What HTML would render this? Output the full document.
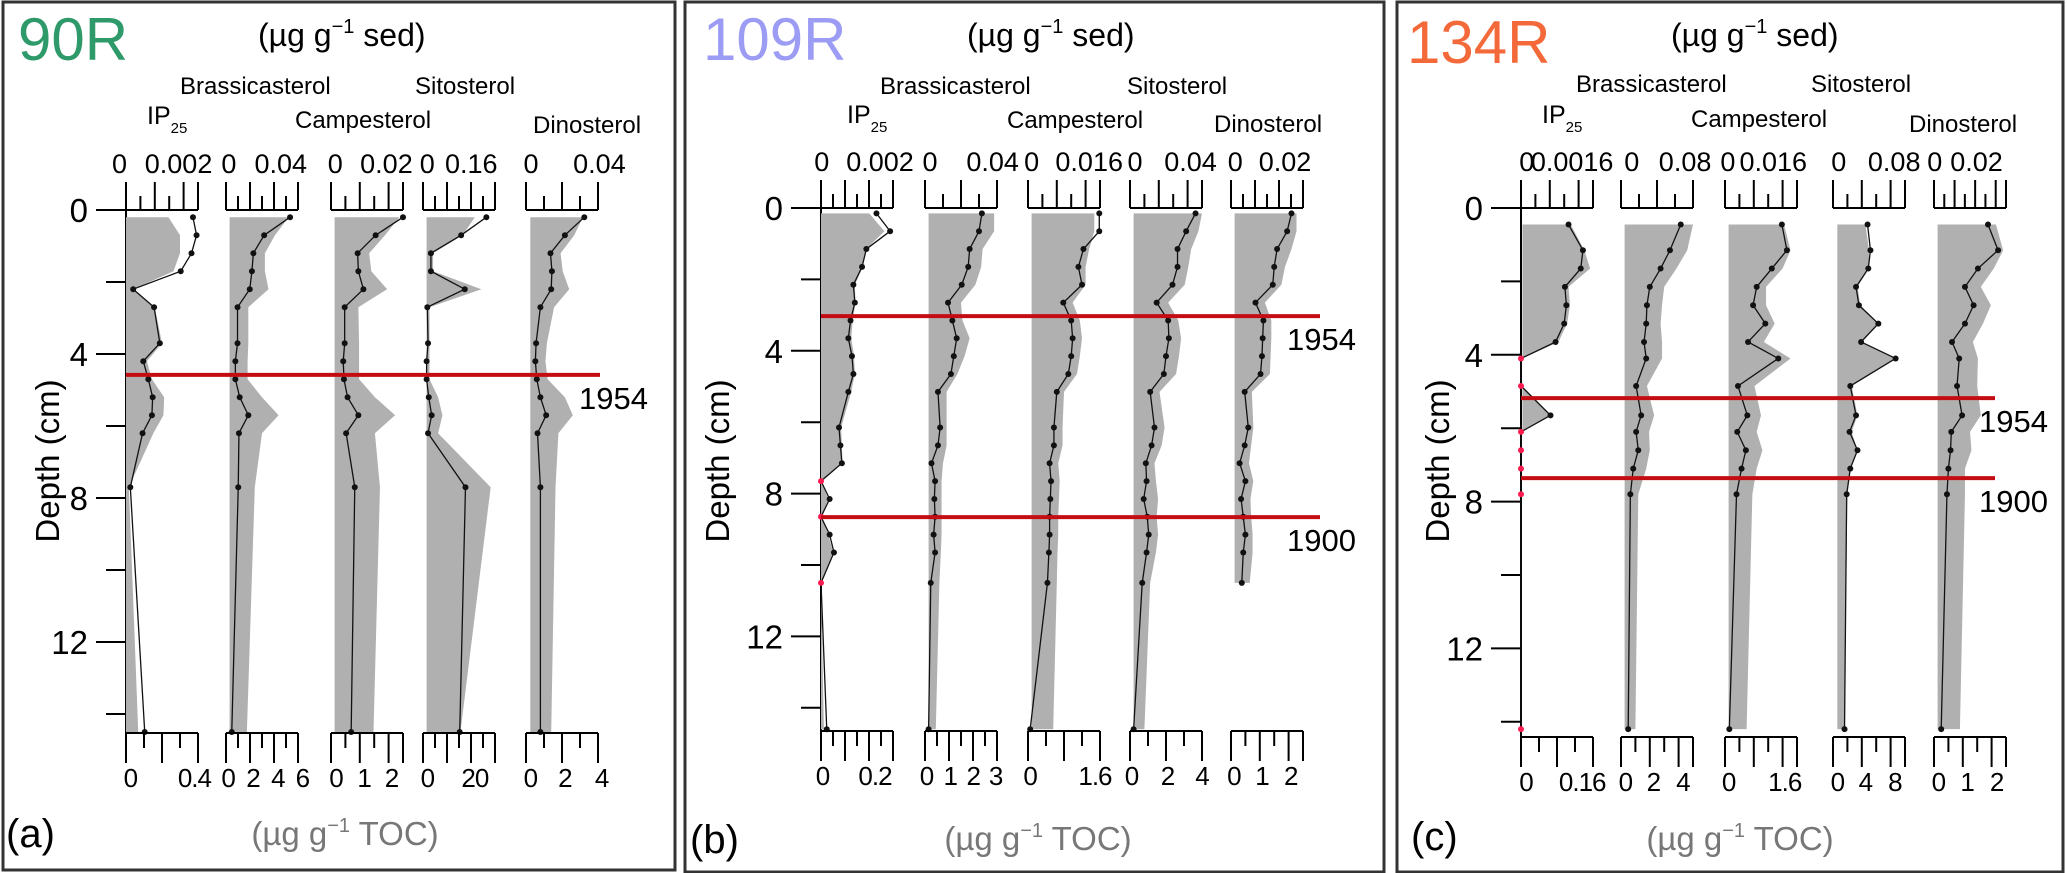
<!DOCTYPE html>
<html>
<head>
<meta charset="utf-8">
<style>
  html, body { margin: 0; padding: 0; background: #fff; }
  svg { display: block; font-family: "Liberation Sans", "DejaVu Sans", sans-serif; }
</style>
</head>
<body>
<svg id="fig" width="2067" height="873" viewBox="0 0 2067 873"></svg>
<script>
// ---------------- DATA (values as fraction of each column's axis range) ----------------
const columnNames = ["IP25", "Brassicasterol", "Campesterol", "Sitosterol", "Dinosterol"];

// Panel (a) 90R
const depthsA = [0.2,0.7,1.2,1.7,2.2,2.7,3.7,4.2,4.7,5.2,5.7,6.2,7.7,14.5];
const ip25A      = [0.93,0.98,0.91,0.76,0.10,0.39,0.47,0.24,0.31,0.37,0.36,0.23,0.06,0.26];
const ip25ShadeA = [0.59,0.75,0.75,0.66,0.10,0.40,0.50,0.29,0.36,0.53,0.52,0.38,0.04,0.17];
const brasA      = [0.89,0.53,0.38,0.36,0.33,0.16,0.16,0.13,0.13,0.19,0.31,0.18,0.17,0.08];
const brasShadeA = [0.87,0.68,0.54,0.54,0.59,0.31,0.31,0.30,0.30,0.50,0.73,0.50,0.40,0.29];
const campA      = [1.00,0.62,0.37,0.38,0.45,0.19,0.19,0.17,0.18,0.23,0.38,0.21,0.33,0.28];
const campShadeA = [0.95,0.75,0.53,0.56,0.78,0.38,0.39,0.39,0.39,0.61,0.89,0.61,0.68,0.59];
const sitoA      = [0.88,0.53,0.11,0.11,0.58,0.06,0.07,0.05,0.05,0.08,0.12,0.07,0.59,0.51];
const sitoShadeA = [0.72,0.55,0.14,0.14,0.81,0.09,0.09,0.09,0.09,0.21,0.27,0.21,0.94,0.52];
const dinoA      = [0.81,0.54,0.34,0.36,0.35,0.20,0.14,0.13,0.15,0.20,0.28,0.16,0.20,0.20];
const dinoShadeA = [0.79,0.67,0.48,0.51,0.60,0.39,0.29,0.27,0.30,0.54,0.65,0.45,0.41,0.35];
const agesA = [[4.58, "1954"]];

// Panel (b) 109R
const depthsB = [0.15,0.65,1.15,1.65,2.15,2.65,3.15,3.65,4.15,4.65,5.15,6.15,6.65,7.15,7.65,8.15,8.65,9.15,9.65,10.5,14.6];
const ip25B      = [0.77,0.96,0.63,0.57,0.45,0.47,0.41,0.38,0.43,0.45,0.38,0.25,0.27,0.29,0,0.12,0,0.12,0.18,0,0.08];
const ip25ShadeB = [0.67,0.88,0.63,0.58,0.47,0.48,0.44,0.42,0.46,0.47,0.42,0.28,0.29,0.30,0,0.10,0,0.10,0.17,0,0.04];
const brasB      = [0.79,0.75,0.62,0.60,0.51,0.32,0.38,0.44,0.40,0.36,0.18,0.21,0.18,0.09,0.14,0.13,0.14,0.12,0.14,0.08,0.05];
const brasShadeB = [0.96,0.96,0.80,0.78,0.70,0.50,0.52,0.62,0.55,0.45,0.30,0.30,0.30,0.25,0.23,0.23,0.23,0.23,0.22,0.20,0.15];
const campB      = [0.99,0.99,0.77,0.70,0.75,0.49,0.60,0.62,0.60,0.56,0.40,0.36,0.36,0.30,0.32,0.31,0.30,0.30,0.29,0.27,0.03];
const campShadeB = [0.92,0.92,0.85,0.80,0.80,0.62,0.72,0.75,0.72,0.68,0.50,0.48,0.48,0.42,0.44,0.43,0.42,0.42,0.41,0.40,0.35];
const sitoB      = [0.91,0.78,0.66,0.66,0.59,0.37,0.53,0.54,0.50,0.47,0.28,0.34,0.30,0.22,0.23,0.19,0.24,0.26,0.23,0.17,0.05];
const sitoShadeB = [1.00,0.95,0.85,0.81,0.76,0.53,0.67,0.71,0.68,0.64,0.41,0.48,0.44,0.34,0.36,0.39,0.37,0.39,0.36,0.28,0.20];
const dinoB      = [0.84,0.78,0.64,0.60,0.58,0.34,0.45,0.44,0.43,0.41,0.19,0.24,0.19,0.12,0.20,0.14,0.17,0.20,0.17,0.15,null];
const dinoShadeB = [0.91,0.91,0.84,0.75,0.70,0.47,0.56,0.56,0.55,0.54,0.29,0.31,0.28,0.25,0.31,0.27,0.28,0.30,0.30,0.26,null];
const agesB = [[3.03, "1954"], [8.66, "1900"]];

// Panel (c) 134R
const depthsC = [0.45,1.15,1.65,2.15,2.65,3.15,3.65,4.1,4.85,5.65,6.1,6.6,7.1,7.8,14.2];
const ip25C      = [0.66,0.86,0.83,0.61,0.63,0.60,0.48,0,0,0.41,0,0,0,0,0];
const ip25ShadeC = [0.69,0.88,0.96,0.66,0.68,0.64,0.52,0,0,0.41,0,0,0,0,0];
const brasC      = [0.83,0.68,0.55,0.40,0.36,0.35,0.32,0.35,0.21,0.28,0.21,0.24,0.17,0.13,0.10];
const brasShadeC = [1.00,0.92,0.77,0.60,0.57,0.55,0.57,0.57,0.36,0.46,0.39,0.40,0.35,0.24,0.20];
const campC      = [0.79,0.86,0.65,0.44,0.39,0.56,0.32,0.74,0.18,0.31,0.17,0.29,0.23,0.16,0.06];
const campShadeC = [0.82,0.91,0.80,0.57,0.57,0.69,0.54,0.91,0.41,0.50,0.44,0.52,0.44,0.38,0.30];
const sitoC      = [0.48,0.52,0.49,0.32,0.36,0.63,0.39,0.87,0.24,0.32,0.23,0.34,0.24,0.19,0.16];
const sitoShadeC = [0.45,0.50,0.50,0.34,0.38,0.63,0.40,0.88,0.26,0.34,0.26,0.34,0.25,0.20,0.16];
const dinoC      = [0.75,0.89,0.61,0.43,0.55,0.43,0.25,0.35,0.32,0.39,0.24,0.23,0.20,0.18,0.10];
const dinoShadeC = [0.86,0.96,0.83,0.65,0.79,0.68,0.54,0.61,0.60,0.65,0.50,0.52,0.43,0.43,0.36];
const agesC = [[5.18, "1954"], [7.36, "1900"]];

// Tick labels (text, fractional position) per column
const topTicksA = [[["0",-0.09],["0.002",0.73]], [["0",0.04],["0.04",0.76]], [["0",0.06],["0.02",0.77]], [["0",0.06],["0.16",0.67]], [["0",0.07],["0.04",1.02]]];
const botTicksA = [[["0",0.06],["0.4",0.95]], [["0",0.03],["2",0.375],["4",0.72],["6",1.06]], [["0",0.07],["1",0.46],["2",0.84]], [["0",0.06],["20",0.72]], [["0",0.06],["2",0.54],["4",1.05]]];
const topTicksB = [[["0",0.01],["0.002",0.82]], [["0",0.07],["0.04",0.94]], [["0",0.05],["0.016",0.85]], [["0",0.07],["0.04",0.84]], [["0",0.06],["0.02",0.75]]];
const botTicksB = [[["0",0.02],["0.2",0.75]], [["0",0.02],["1",0.35],["2",0.67],["3",0.98]], [["0",0.03],["1.6",0.93]], [["0",0.02],["2",0.52],["4",1.0]], [["0",0.04],["1",0.43],["2",0.83]]];
const topTicksC = [[["0",0.08],["0.0016",0.71]], [["0",0.15],["0.08",0.89]], [["0",0.04],["0.016",0.67]], [["0",0.08],["0.08",0.85]], [["0",0.01],["0.02",0.59]]];
const botTicksC = [[["0",0.07],["0.16",0.85]], [["0",0.06],["2",0.45],["4",0.86]], [["0",0.05],["1.6",0.83]], [["0",0.06],["4",0.45],["8",0.86]], [["0",0.06],["1",0.46],["2",0.87]]];
const depthTickLabels = ["0","4","8","12"];

// ---------------- LAYOUT (positions only) ----------------
const panels = [
  { id:"a", site:"90R", color:"#2e9a6a", box:[3,2,672,868], xs:[126,226,331,423,526], w:72, y0:210, k:36, botY:733,
    depths:depthsA, lines:[ip25A,brasA,campA,sitoA,dinoA], shades:[ip25ShadeA,brasShadeA,campShadeA,sitoShadeA,dinoShadeA],
    shadeLeft:[0,0.05,0.05,0.05,0.06], top:topTicksA, bot:botTicksA, topN:[5,6,5,6,4], botN:[4,6,5,6,4], ages:agesA, ageEnd:600, ageTextX:579,
    siteX:18, siteY:60, unitX:258, titles:[[147,124],[180,94],[295,128],[415,94],[533,133]], depthLabelX:47, letterX:6, letterY:847, tocX:345, tocY:845 },
  { id:"b", site:"109R", color:"#9c9cf5", box:[685,2,699,870], xs:[821,925,1028,1130,1231], w:72, y0:208, k:35.7, botY:731,
    depths:depthsB, lines:[ip25B,brasB,campB,sitoB,dinoB], shades:[ip25ShadeB,brasShadeB,campShadeB,sitoShadeB,dinoShadeB],
    shadeLeft:[0,0.05,0.05,0.05,0.05], top:topTicksB, bot:botTicksB, topN:[6,4,5,5,6], botN:[6,6,4,4,5], ages:agesB, ageEnd:1320, ageTextX:1287,
    siteX:703, siteY:60, unitX:967, titles:[[847,123],[880,94],[1007,128],[1127,94],[1214,132]], depthLabelX:717, letterX:690, letterY:853, tocX:1038, tocY:850 },
  { id:"c", site:"134R", color:"#f4693a", box:[1397,2,666,870], xs:[1521,1621,1725,1833,1934], w:72, y0:208, k:36.7, botY:737,
    depths:depthsC, lines:[ip25C,brasC,campC,sitoC,dinoC], shades:[ip25ShadeC,brasShadeC,campShadeC,sitoShadeC,dinoShadeC],
    shadeLeft:[0.02,0.05,0.05,0.06,0.05], top:topTicksC, bot:botTicksC, topN:[5,4,5,5,7], botN:[4,5,5,5,5], ages:agesC, ageEnd:1995, ageTextX:1979,
    siteX:1407, siteY:63, unitX:1671, titles:[[1542,123],[1576,92],[1691,127],[1811,92],[1909,132]], depthLabelX:1437, letterX:1411, letterY:850, tocX:1740, tocY:850 }
];

// ---------------- RENDER ----------------
const NS = "http://www.w3.org/2000/svg";
const svg = document.getElementById("fig");
function mk(tag, attrs, parent) {
  const e = document.createElementNS(NS, tag);
  for (const key in attrs) e.setAttribute(key, attrs[key]);
  (parent || svg).appendChild(e);
  return e;
}
function txt(s, attrs, parent) { const t = mk("text", attrs, parent); t.textContent = s; return t; }

panels.forEach(function (p) {
  const g = mk("g", {});
  
  
  const yOf = function (d) { return p.y0 + d * p.k; };
  const xOf = function (c, v) { return p.xs[c] + v * p.w; };

  const frame = mk("rect", { x:p.box[0], y:p.box[1], width:p.box[2], height:p.box[3], fill:"none", stroke:"#333", "stroke-width":3 }, g);
  
  

  const site = txt(p.site, { x:p.siteX, y:p.siteY, "font-size":60, fill:p.color }, g);
  
  

  const unit = txt("(µg g", { x:p.unitX, y:46, "font-size":32, fill:"#000" }, g);
  const sup = mk("tspan", { dy:-13, "font-size":20 }, unit); sup.textContent = "−1";
  const rest = mk("tspan", { dy:13, "font-size":32 }, unit); rest.textContent = " sed)";
  
  

  // column titles
  for (let c = 0; c < 5; c++) {
    let t;
    if (c === 0) {
      t = txt("IP", { x:p.titles[c][0], y:p.titles[c][1], "font-size":25 }, g);
      const sb = mk("tspan", { dy:9, "font-size":15 }, t); sb.textContent = "25";
    } else {
      t = txt(columnNames[c], { x:p.titles[c][0], y:p.titles[c][1], "font-size":24 }, g);
    }
    
    
  }

  // depth axis
  const topY = p.y0;
  const dAxis = mk("line", { x1:p.xs[0]-30, y1:topY, x2:p.xs[0], y2:topY, stroke:"#000", "stroke-width":2 }, g);
  
  
  const vAxis = mk("line", { x1:p.xs[0], y1:topY, x2:p.xs[0], y2:p.botY, stroke:"#000", "stroke-width":2 }, g);
  
  
  for (let d = 2; d <= 14; d += 2) {
    const major = d % 4 === 0;
    const tk = mk("line", { x1:p.xs[0]-(major?30:20), y1:yOf(d), x2:p.xs[0], y2:yOf(d), stroke:"#000", "stroke-width":2 }, g);
    
    
  }
  depthTickLabels.forEach(function (lab) {
    const t = txt(lab, { x:p.xs[0]-38, y:yOf(+lab)+12, "font-size":33, "text-anchor":"end" }, g);
    
    
  });
  const dl = txt("Depth (cm)", { x:0, y:0, "font-size":33, "text-anchor":"middle", transform:"translate(" + (p.depthLabelX+12) + "," + 461 + ") rotate(-90)" }, g);
  
  

  // columns
  for (let c = 0; c < 5; c++) {
    const x0 = p.xs[c], w = p.w;
    const idx = [];
    p.depths.forEach(function (d, i) { if (p.lines[c][i] !== null) idx.push(i); });
    let pts = [];
    const left = xOf(c, p.shadeLeft[c]);
    pts.push(left + "," + yOf(p.depths[idx[0]]));
    idx.forEach(function (i) { pts.push(xOf(c, Math.max(p.shades[c][i], p.shadeLeft[c])) + "," + yOf(p.depths[i])); });
    pts.push(left + "," + yOf(p.depths[idx[idx.length-1]]));
    const sh = mk("polygon", { points:pts.join(" "), fill:"#b0b0b0", stroke:"none" }, g);
    
    
    const lp = idx.map(function (i) { return xOf(c, p.lines[c][i]) + "," + yOf(p.depths[i]); }).join(" ");
    const ln = mk("polyline", { points:lp, fill:"none", stroke:"#111", "stroke-width":1.3 }, g);
    
    
    idx.forEach(function (i) {
      const v = p.lines[c][i];
      const dot = mk("circle", { cx:xOf(c, v), cy:yOf(p.depths[i]), r:3, fill:(v === 0 && p.id !== "a") ? "#ff1a4f" : "#111" }, g);
      
      
    });

    // top axis
    const ta = mk("line", { x1:x0, y1:topY, x2:x0+w, y2:topY, stroke:"#000", "stroke-width":2 }, g);
    
    
    const nT = p.topN[c];
    for (let j = 0; j <= nT; j++) {
      const tall = (j % 2 === 0 || j === nT);
      const tx = x0 + j * w / nT;
      const tk = mk("line", { x1:tx, y1:topY, x2:tx, y2:topY-(tall?28:14), stroke:"#000", "stroke-width":2 }, g);
      
      
    }
    p.top[c].forEach(function (L) {
      const t = txt(L[0], { x:x0 + L[1]*w, y:topY-37, "font-size":27, "text-anchor":"middle" }, g);
      
      
    });

    // bottom axis
    const by = p.botY;
    const ba = mk("line", { x1:x0, y1:by, x2:x0+w, y2:by, stroke:"#000", "stroke-width":2 }, g);
    
    
    const nB = p.botN[c];
    for (let j = 0; j <= nB; j++) {
      const tall = (j % 2 === 0 || j === nB);
      const tx = x0 + j * w / nB;
      const tk = mk("line", { x1:tx, y1:by, x2:tx, y2:by+(tall?30:15), stroke:"#000", "stroke-width":2 }, g);
      
      
    }
    p.bot[c].forEach(function (L) {
      const t = txt(L[0], { x:x0 + L[1]*w, y:by+54, "font-size":26, "text-anchor":"middle", "letter-spacing":"-1" }, g);
      
      
    });
  }

  // age markers
  p.ages.forEach(function (A) {
    const y = yOf(A[0]);
    const l = mk("line", { x1:p.xs[0], y1:y, x2:p.ageEnd, y2:y, stroke:"#c40d12", "stroke-width":4 }, g);
    
    
    const t = txt(A[1], { x:p.ageTextX, y:y+34, "font-size":31 }, g);
    
    
  });

  const letter = txt("(" + p.id + ")", { x:p.letterX, y:p.letterY, "font-size":40 }, g);
  
  

  const toc = txt("(µg g", { x:p.tocX, y:p.tocY, "font-size":33, fill:"#777", "text-anchor":"middle" }, g);
  const s2 = mk("tspan", { dy:-13, "font-size":20 }, toc); s2.textContent = "−1";
  const r2 = mk("tspan", { dy:13, "font-size":33 }, toc); r2.textContent = " TOC)";
  
  
});
</script>
</body>
</html>
